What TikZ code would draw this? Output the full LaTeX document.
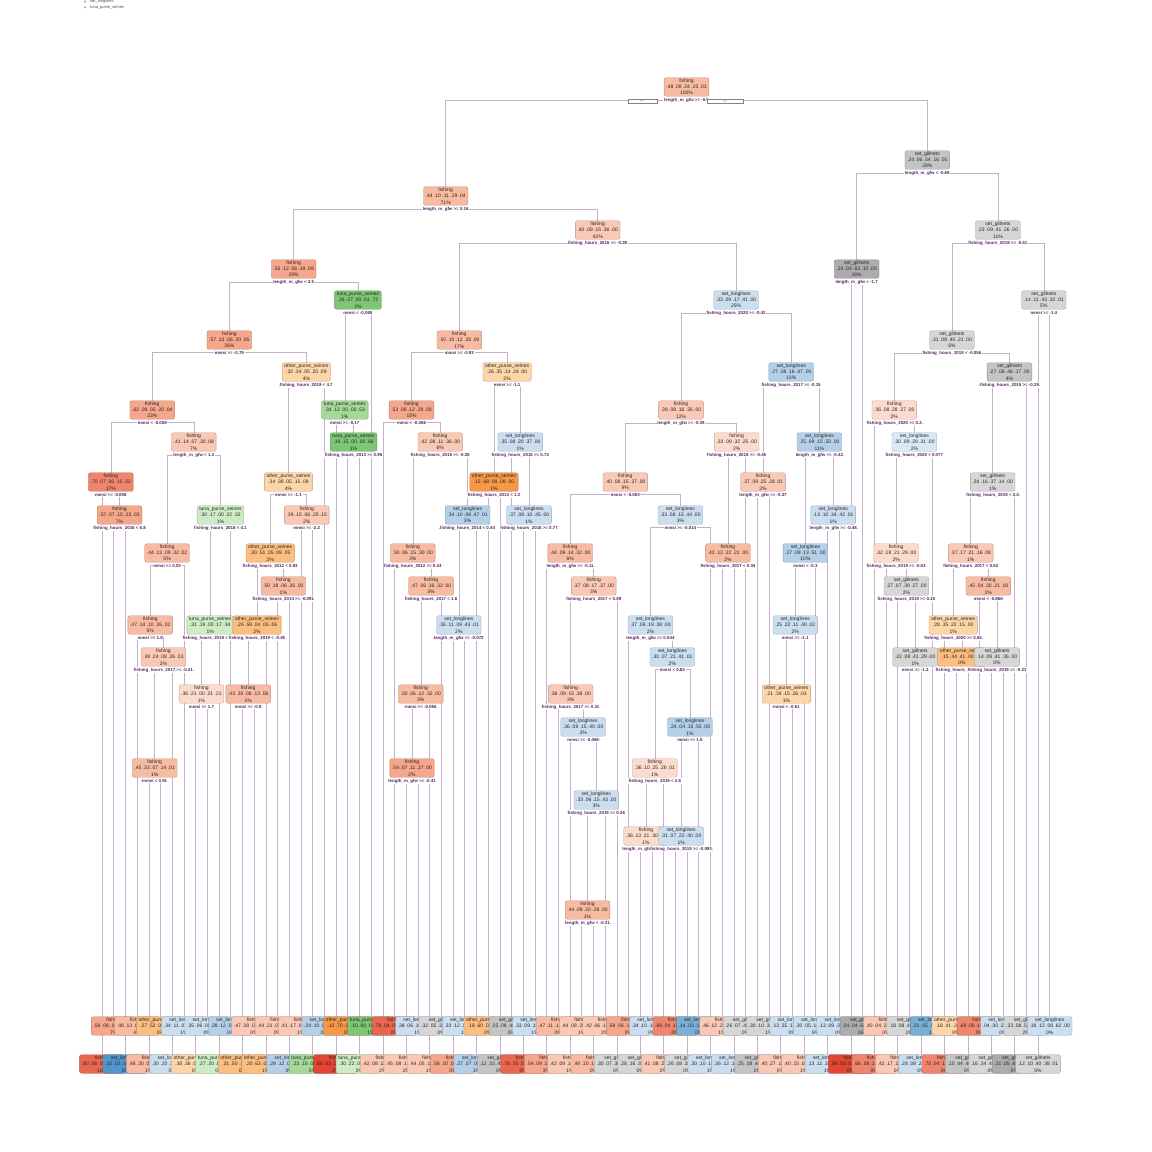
\documentclass[tikz,border=0pt]{standalone}
\usepackage{fontspec}
\setmainfont{Liberation Sans}
\usetikzlibrary{positioning,backgrounds}
\definecolor{f0}{RGB}{252,219,204}
\definecolor{f1}{RGB}{250,200,180}
\definecolor{f2}{RGB}{248,187,162}
\definecolor{f3}{RGB}{245,166,139}
\definecolor{f4}{RGB}{240,132,108}
\definecolor{f5}{RGB}{235,102,78}
\definecolor{f6}{RGB}{228,68,50}
\definecolor{o1}{RGB}{253,214,168}
\definecolor{o2}{RGB}{252,190,128}
\definecolor{o3}{RGB}{247,151,72}
\definecolor{g1}{RGB}{214,214,214}
\definecolor{g2}{RGB}{196,196,196}
\definecolor{g3}{RGB}{172,172,172}
\definecolor{b0}{RGB}{218,232,245}
\definecolor{b1}{RGB}{203,222,240}
\definecolor{b2}{RGB}{180,208,233}
\definecolor{b3}{RGB}{120,176,214}
\definecolor{b4}{RGB}{80,150,205}
\definecolor{t1}{RGB}{205,235,197}
\definecolor{t2}{RGB}{165,217,152}
\definecolor{t3}{RGB}{125,198,115}
\definecolor{linec}{RGB}{196,176,206}
\definecolor{splitc}{RGB}{85,35,95}
\tikzset{
  box/.style={fill=#1, draw=#1!75!black, rounded corners=2pt, line width=0.35pt, align=center,
    inner xsep=2.2pt, inner ysep=1.2pt, font=\fontsize{5}{6.2}\selectfont, text=black!85},
  split/.style={fill=white, inner sep=0.5pt, text=splitc, font=\bfseries\fontsize{4.4}{5}\selectfont},
  br/.style={draw=linec, line width=0.6pt},
  yn/.style={draw=linec!70!black, fill=white, line width=0.3pt, inner sep=0.2pt,
    font=\fontsize{3}{3.4}\selectfont, text=gray, minimum height=4pt}
}
\begin{document}
\begin{tikzpicture}[x=1pt, y=-1pt]
\useasboundingbox (0,0) rectangle (1152,1152);
% legend
\fill[b3] (85,1.5) circle (1.1);
\node[anchor=west, inner sep=0, font=\fontsize{4}{4}\selectfont, text=black!70] (lg1) at (90,1.5) {set\_longlines};
\fill[t3] (85,7.3) circle (1.1);
\node[anchor=west, inner sep=0, font=\fontsize{4}{4}\selectfont, text=black!70] (lg2) at (90,7.3) {tuna\_purse\_seines};

% leaves
\foreach \k/\c/\t/\p/\q in {
 1/f5/fishing/.80 .06 .04 .08 .02/10, 2/f3/fishing/.58 .08 .10 .21 .03/7,
 3/b4/set\_longlines/.15 .03 .08 .73 .01/0, 4/f2/fishing/.48 .13 .09 .27 .03/4,
 5/f2/fishing/.48 .30 .07 .14 .01/1, 6/o2/other\_purse\_seines/.27 .52 .06 .12 .03/0,
 7/b1/set\_longlines/.30 .20 .10 .39 .01/0, 8/b1/set\_longlines/.34 .11 .07 .45 .03/1,
 9/o1/other\_purse\_seines/.30 .36 .00 .24 .10/0, 10/b1/set\_longlines/.35 .06 .00 .41 .18/0,
 11/t1/tuna\_purse\_seines/.27 .20 .00 .15 .38/0, 12/b2/set\_longlines/.28 .12 .00 .49 .11/0,
 13/o2/other\_purse\_seines/.31 .50 .10 .05 .04/0, 14/f1/fishing/.47 .18 .06 .12 .17/0,
 15/o2/other\_purse\_seines/.20 .63 .03 .06 .08/1, 16/f1/fishing/.44 .21 .07 .28 .00/0,
 17/b2/set\_longlines/.29 .12 .05 .54 .00/0, 18/f1/fishing/.41 .17 .07 .23 .12/1,
 19/t2/tuna\_purse\_seines/.23 .10 .04 .15 .48/0, 20/b2/set\_longlines/.24 .10 .04 .52 .10/0,
 21/f6/fishing/.88 .03 .00 .00 .09/0, 22/o3/other\_purse\_seines/.12 .70 .00 .00 .18/0,
 23/t1/tuna\_purse\_seines/.30 .22 .00 .00 .48/0, 24/t3/tuna\_purse\_seines/.10 .00 .00 .02 .88/1,
 25/f1/fishing/.42 .08 .13 .37 .00/2, 26/f5/fishing/.78 .04 .09 .09 .00/0,
 27/f1/fishing/.45 .08 .12 .35 .00/1, 28/b1/set\_longlines/.38 .06 .10 .46 .00/1,
 29/f1/fishing/.44 .05 .12 .39 .00/1, 30/g1/set\_gillnets/.32 .05 .35 .28 .00/0,
 31/f3/fishing/.56 .10 .06 .28 .00/0, 32/b1/set\_longlines/.33 .12 .10 .45 .00/1,
 33/b2/set\_longlines/.27 .07 .06 .59 .01/1, 34/o2/other\_purse\_seines/.18 .60 .09 .13 .00/0,
 35/g2/set\_gillnets/.12 .33 .48 .07 .00/0, 36/g2/set\_gillnets/.25 .08 .46 .21 .00/0,
 37/f5/fishing/.76 .05 .05 .14 .00/0, 38/b1/set\_longlines/.33 .09 .12 .46 .00/1,
 39/f3/fishing/.54 .09 .11 .26 .00/3, 40/f2/fishing/.47 .11 .14 .28 .00/0,
 41/f1/fishing/.42 .09 .14 .35 .00/1, 42/f1/fishing/.44 .08 .20 .28 .00/1,
 43/f2/fishing/.49 .10 .19 .22 .00/0, 44/f1/fishing/.42 .06 .12 .40 .00/2,
 45/g1/set\_gillnets/.30 .07 .36 .27 .00/0, 46/f3/fishing/.58 .06 .11 .25 .00/0,
 47/g1/set\_gillnets/.28 .16 .35 .21 .00/0, 48/b1/set\_longlines/.34 .10 .16 .40 .00/0,
 49/f1/fishing/.41 .08 .27 .24 .00/0, 50/f4/fishing/.68 .04 .10 .18 .00/0,
 51/g1/set\_gillnets/.26 .08 .38 .28 .00/0, 52/b3/set\_longlines/.14 .03 .12 .71 .00/0,
 53/b1/set\_longlines/.30 .10 .14 .46 .00/1, 54/f1/fishing/.46 .12 .20 .22 .00/1,
 55/b1/set\_longlines/.36 .12 .11 .41 .00/1, 56/g1/set\_gillnets/.26 .07 .40 .27 .00/0,
 57/g2/set\_gillnets/.25 .08 .49 .18 .00/1, 58/g1/set\_gillnets/.30 .10 .36 .24 .00/1,
 59/f1/fishing/.40 .27 .13 .19 .01/0, 60/b1/set\_longlines/.13 .35 .13 .38 .01/0,
 61/f1/fishing/.40 .15 .08 .35 .02/1, 62/b1/set\_longlines/.30 .05 .14 .51 .00/8,
 63/b1/set\_longlines/.13 .11 .32 .44 .00/1, 64/b1/set\_longlines/.13 .09 .37 .41 .00/0,
 65/f6/fishing/.89 .03 .03 .05 .00/0, 66/g3/set\_gillnets/.24 .04 .64 .08 .00/16,
 67/f4/fishing/.66 .08 .10 .16 .00/0, 68/f1/fishing/.40 .04 .24 .32 .00/0,
 69/f1/fishing/.42 .17 .11 .30 .00/0, 70/g1/set\_gillnets/.18 .08 .40 .34 .00/1,
 71/b1/set\_longlines/.28 .08 .22 .42 .00/0, 72/b3/set\_longlines/.21 .05 .13 .61 .00/1,
 73/f4/fishing/.70 .04 .12 .14 .00/0, 74/o1/other\_purse\_seines/.18 .41 .37 .04 .00/0,
 75/g2/set\_gillnets/.10 .44 .46 .00 .00/0, 76/f4/fishing/.69 .00 .19 .12 .00/0,
 77/g1/set\_gillnets/.16 .34 .40 .10 .00/0, 78/b1/set\_longlines/.04 .30 .22 .44 .00/0,
 79/g3/set\_gillnets/.21 .05 .61 .13 .00/0, 80/g1/set\_gillnets/.23 .08 .52 .17 .00/2,
 81/g1/set\_gillnets/.12 .10 .40 .38 .01/5, 82/b1/set\_longlines/.18 .12 .08 .62 .00/0}{
  \pgfmathsetmacro{\lx}{102+(\k-1)*11.7}
  \pgfmathsetmacro{\ly}{isodd(\k) ? 1064 : 1026}
  \node[box=\c] (L\k) at (\lx,\ly) {\t\\\p\\\q\%};
}

% split nodes
\node[box=f2] (n1) at (686.5,87) {fishing\\.48 .09 .24 .25 .03\\100\%};
\node[split,below=0.8pt of n1] (s1) {length\_m\_gfw >= -0.5};
\node[box=f2] (n2) at (445.7,196) {fishing\\.44 .10 .11 .29 .04\\71\%};
\node[split,below=0.8pt of n2] (s2) {length\_m\_gfw >= 0.16};
\node[box=g2] (n3) at (927.3,160) {set\_gillnets\\.24 .06 .54 .16 .00\\29\%};
\node[split,below=0.8pt of n3] (s3) {length\_m\_gfw < -0.69};
\node[box=f3] (n4) at (293.65,269) {fishing\\.55 .12 .06 .19 .09\\29\%};
\node[split,below=0.8pt of n4] (s4) {length\_m\_gfw < 3.5};
\node[box=f1] (n5) at (597.7,230) {fishing\\.40 .09 .15 .36 .00\\42\%};
\node[split,below=0.8pt of n5] (s5) {fishing\_hours\_2016 >= -0.39};
\node[box=g3] (n6) at (856.65,269) {set\_gillnets\\.24 .04 .63 .10 .00\\16\%};
\node[split,below=0.8pt of n6] (s6) {length\_m\_gfw < -1.7};
\node[box=g1] (n7) at (997.9,230) {set\_gillnets\\.23 .09 .41 .26 .00\\11\%};
\node[split,below=0.8pt of n7] (s7) {fishing\_hours\_2018 >= -0.41};
\node[box=f3] (n8) at (229.35,340) {fishing\\.57 .13 .06 .20 .05\\26\%};
\node[split,below=0.8pt of n8] (s8) {mmsi >= -0.79};
\node[box=t3] (n9) at (357.95,300) {tuna\_purse\_seines\\.26 .07 .00 .01 .72\\2\%};
\node[split,below=0.8pt of n9] (s9) {mmsi < -0.065};
\node[box=f2] (n10) at (459.3,340) {fishing\\.50 .10 .12 .28 .00\\17\%};
\node[split,below=0.8pt of n10] (s10) {mmsi >= -0.93};
\node[box=b1] (n11) at (736.1,300) {set\_longlines\\.33 .09 .17 .41 .00\\25\%};
\node[split,below=0.8pt of n11] (s11) {fishing\_hours\_2020 >= -0.42};
\node[box=g1] (n14) at (951.9,340) {set\_gillnets\\.31 .08 .40 .21 .00\\6\%};
\node[split,below=0.8pt of n14] (s14) {fishing\_hours\_2018 < -0.056};
\node[box=g1] (n15) at (1043.85,300) {set\_gillnets\\.14 .11 .43 .32 .01\\5\%};
\node[split,below=0.8pt of n15] (s15) {mmsi >= -1.4};
\node[box=f3] (n16) at (152.3,410) {fishing\\.62 .09 .05 .20 .04\\23\%};
\node[split,below=0.8pt of n16] (s16) {mmsi < -0.058};
\node[box=o1] (n17) at (306.4,372) {other\_purse\_seines\\.32 .34 .05 .20 .09\\4\%};
\node[split,below=0.8pt of n17] (s17) {fishing\_hours\_2019 < 4.7};
\node[box=t2] (n18) at (344.8,410) {tuna\_purse\_seines\\.34 .12 .00 .00 .53\\1\%};
\node[split,below=0.8pt of n18] (s18) {mmsi >= -0.17};
\node[box=f3] (n20) at (411.5,410) {fishing\\.53 .06 .12 .29 .00\\15\%};
\node[split,below=0.8pt of n20] (s20) {mmsi < -0.066};
\node[box=o1] (n21) at (507.1,372) {other\_purse\_seines\\.26 .35 .14 .24 .00\\2\%};
\node[split,below=0.8pt of n21] (s21) {mmsi >= -1.1};
\node[box=f1] (n22) at (681,410) {fishing\\.39 .08 .16 .35 .00\\12\%};
\node[split,below=0.8pt of n22] (s22) {length\_m\_gfw >= -0.39};
\node[box=b2] (n23) at (791.2,372) {set\_longlines\\.27 .08 .16 .47 .00\\13\%};
\node[split,below=0.8pt of n23] (s23) {fishing\_hours\_2017 >= -0.15};
\node[box=f0] (n28) at (894.3,410) {fishing\\.36 .08 .28 .27 .00\\2\%};
\node[split,below=0.8pt of n28] (s28) {fishing\_hours\_2020 >= 0.2};
\node[box=g2] (n29) at (1009.5,372) {set\_gillnets\\.27 .08 .46 .17 .00\\4\%};
\node[split,below=0.8pt of n29] (s29) {fishing\_hours\_2015 >= -0.29};
\node[box=f4] (n32) at (110.8,482) {fishing\\.70 .07 .06 .15 .02\\17\%};
\node[split,below=0.8pt of n32] (s32) {mmsi >= -0.058};
\node[box=f1] (n33) at (193.8,442) {fishing\\.41 .14 .07 .30 .08\\7\%};
\node[split,below=0.8pt of n33] (s33) {length\_m\_gfw < 1.3};
\node[box=o1] (n34) at (288.5,482) {other\_purse\_seines\\.34 .38 .05 .15 .09\\4\%};
\node[split,below=0.8pt of n34] (s34) {mmsi >= -1.1};
\node[box=t3] (n37) at (353.55,442) {tuna\_purse\_seines\\.19 .15 .00 .00 .66\\1\%};
\node[split,below=0.8pt of n37] (s37) {fishing\_hours\_2013 >= 0.95};
\node[box=f1] (n41) at (440.2,442) {fishing\\.42 .08 .11 .36 .00\\6\%};
\node[split,below=0.8pt of n41] (s41) {fishing\_hours\_2018 >= -0.25};
\node[box=o3] (n42) at (493.95,482) {other\_purse\_seines\\.15 .68 .08 .09 .00\\1\%};
\node[split,below=0.8pt of n42] (s42) {fishing\_hours\_2013 < 1.3};
\node[box=b1] (n43) at (520.3,442) {set\_longlines\\.35 .08 .20 .37 .00\\1\%};
\node[split,below=0.8pt of n43] (s43) {fishing\_hours\_2015 >= 0.72};
\node[box=f1] (n44) at (625.3,482) {fishing\\.40 .08 .15 .37 .00\\9\%};
\node[split,below=0.8pt of n44] (s44) {mmsi < -0.063};
\node[box=f0] (n45) at (736.7,442) {fishing\\.33 .09 .32 .25 .00\\2\%};
\node[split,below=0.8pt of n45] (s45) {fishing\_hours\_2018 >= -0.45};
\node[box=f1] (n46) at (763.05,482) {fishing\\.37 .09 .25 .28 .01\\2\%};
\node[split,below=0.8pt of n46] (s46) {length\_m\_gfw >= -0.37};
\node[box=b2] (n47) at (819.35,442) {set\_longlines\\.25 .09 .15 .50 .00\\11\%};
\node[split,below=0.8pt of n47] (s47) {length\_m\_gfw >= -0.42};
\node[box=b0] (n57) at (914.4,442) {set\_longlines\\.30 .09 .29 .31 .00\\2\%};
\node[split,below=0.8pt of n57] (s57) {fishing\_hours\_2020 < 0.077};
\node[box=g1] (n58) at (992.7,482) {set\_gillnets\\.34 .16 .37 .14 .00\\1\%};
\node[split,below=0.8pt of n58] (s58) {fishing\_hours\_2019 < 2.4};
\node[box=f3] (n65) at (119.55,515) {fishing\\.57 .07 .10 .23 .03\\7\%};
\node[split,below=0.8pt of n65] (s65) {fishing\_hours\_2016 < 6.8};
\node[box=f2] (n66) at (167.1,553) {fishing\\.44 .13 .09 .32 .02\\5\%};
\node[split,below=0.8pt of n66] (s66) {mmsi >= 0.03};
\node[box=t1] (n67) at (220.45,515) {tuna\_purse\_seines\\.30 .17 .00 .22 .32\\1\%};
\node[split,below=0.8pt of n67] (s67) {fishing\_hours\_2018 < 4.1};
\node[box=o2] (n68) at (270.2,553) {other\_purse\_seines\\.30 .51 .05 .09 .05\\2\%};
\node[split,below=0.8pt of n68] (s68) {fishing\_hours\_2012 < 0.83};
\node[box=f1] (n69) at (306.75,515) {fishing\\.39 .15 .06 .25 .15\\2\%};
\node[split,below=0.8pt of n69] (s69) {mmsi >= -2.2};
\node[box=f2] (n82) at (412.8,553) {fishing\\.50 .06 .15 .30 .00\\3\%};
\node[split,below=0.8pt of n82] (s82) {fishing\_hours\_2012 >= 0.24};
\node[box=b2] (n83) at (467.6,515) {set\_longlines\\.34 .10 .08 .47 .01\\3\%};
\node[split,below=0.8pt of n83] (s83) {fishing\_hours\_2014 < 0.44};
\node[box=b1] (n87) at (529.05,515) {set\_longlines\\.37 .08 .10 .45 .00\\1\%};
\node[split,below=0.8pt of n87] (s87) {fishing\_hours\_2016 >= 0.77};
\node[box=f2] (n88) at (570.2,553) {fishing\\.44 .09 .14 .32 .00\\6\%};
\node[split,below=0.8pt of n88] (s88) {length\_m\_gfw >= -0.11};
\node[box=b1] (n89) at (680.4,515) {set\_longlines\\.33 .08 .15 .44 .00\\3\%};
\node[split,below=0.8pt of n89] (s89) {mmsi >= -0.014};
\node[box=f2] (n90) at (727.95,553) {fishing\\.43 .12 .22 .22 .00\\2\%};
\node[split,below=0.8pt of n90] (s90) {fishing\_hours\_2017 < 0.34};
\node[box=b2] (n94) at (805.45,553) {set\_longlines\\.27 .09 .13 .51 .00\\10\%};
\node[split,below=0.8pt of n94] (s94) {mmsi < -0.3};
\node[box=b1] (n95) at (833.25,515) {set\_longlines\\.13 .10 .34 .42 .01\\1\%};
\node[split,below=0.8pt of n95] (s95) {length\_m\_gfw >= -0.48};
\node[box=f0] (n114) at (896.15,553) {fishing\\.32 .18 .21 .29 .00\\2\%};
\node[split,below=0.8pt of n114] (s114) {fishing\_hours\_2019 >= -0.53};
\node[box=f1] (n116) at (970.75,553) {fishing\\.37 .17 .21 .16 .08\\1\%};
\node[split,below=0.8pt of n116] (s116) {fishing\_hours\_2017 < 0.62};
\node[box=f2] (n132) at (150.25,625) {fishing\\.47 .14 .10 .26 .02\\5\%};
\node[split,below=0.8pt of n132] (s132) {mmsi >= 1.8};
\node[box=t1] (n134) at (210.2,625) {tuna\_purse\_seines\\.31 .19 .00 .17 .34\\1\%};
\node[split,below=0.8pt of n134] (s134) {fishing\_hours\_2019 < 0.38};
\node[box=o2] (n136) at (257,625) {other\_purse\_seines\\.26 .59 .04 .05 .06\\2\%};
\node[split,below=0.8pt of n136] (s136) {fishing\_hours\_2019 < -0.45};
\node[box=f2] (n137) at (283.35,586) {fishing\\.50 .18 .06 .26 .00\\1\%};
\node[split,below=0.8pt of n137] (s137) {fishing\_hours\_2014 >= -0.091};
\node[box=f2] (n165) at (431.05,586) {fishing\\.47 .06 .16 .32 .00\\3\%};
\node[split,below=0.8pt of n165] (s165) {fishing\_hours\_2017 < 1.6};
\node[box=b1] (n166) at (458.85,625) {set\_longlines\\.36 .11 .09 .43 .01\\2\%};
\node[split,below=0.8pt of n166] (s166) {length\_m\_gfw >= -0.072};
\node[box=f1] (n177) at (593.75,586) {fishing\\.37 .08 .17 .37 .00\\3\%};
\node[split,below=0.8pt of n177] (s177) {fishing\_hours\_2017 < 0.89};
\node[box=b1] (n178) at (650.4,625) {set\_longlines\\.37 .06 .19 .38 .00\\2\%};
\node[split,below=0.8pt of n178] (s178) {length\_m\_gfw >= 0.044};
\node[box=b1] (n188) at (795.2,625) {set\_longlines\\.25 .22 .11 .40 .02\\2\%};
\node[split,below=0.8pt of n188] (s188) {mmsi >= -1.1};
\node[box=g1] (n229) at (906.4,586) {set\_gillnets\\.27 .07 .39 .27 .00\\2\%};
\node[split,below=0.8pt of n229] (s229) {fishing\_hours\_2019 >= 0.18};
\node[box=o1] (n232) at (953.2,625) {other\_purse\_seines\\.28 .35 .22 .15 .00\\1\%};
\node[split,below=0.8pt of n232] (s232) {fishing\_hours\_2020 >= 0.92};
\node[box=f2] (n233) at (988.3,586) {fishing\\.45 .04 .30 .21 .00\\1\%};
\node[split,below=0.8pt of n233] (s233) {mmsi < -0.866};
\node[box=f1] (n265) at (163.4,657) {fishing\\.39 .24 .08 .26 .03\\2\%};
\node[split,below=0.8pt of n265] (s265) {fishing\_hours\_2017 >= -0.21};
\node[box=f0] (n268) at (201.45,694) {fishing\\.36 .21 .00 .21 .21\\1\%};
\node[split,below=0.8pt of n268] (s268) {mmsi >= 1.7};
\node[box=f2] (n272) at (248.25,694) {fishing\\.43 .30 .08 .13 .06\\1\%};
\node[split,below=0.8pt of n272] (s272) {mmsi >= -0.8};
\node[box=f2] (n330) at (420.8,694) {fishing\\.50 .06 .12 .32 .00\\3\%};
\node[split,below=0.8pt of n330] (s330) {mmsi >= -0.066};
\node[box=f1] (n354) at (570.7,694) {fishing\\.38 .09 .15 .38 .00\\3\%};
\node[split,below=0.8pt of n354] (s354) {fishing\_hours\_2017 >= 0.31};
\node[box=b1] (n357) at (672.35,657) {set\_longlines\\.30 .07 .21 .41 .01\\2\%};
\node[split,below=0.8pt of n357] (s357) {mmsi < 0.84};
\node[box=o1] (n376) at (786.45,694) {other\_purse\_seines\\.21 .34 .15 .26 .03\\1\%};
\node[split,below=0.8pt of n376] (s376) {mmsi < -0.61};
\node[box=g1] (n459) at (915.15,657) {set\_gillnets\\.22 .08 .41 .29 .00\\1\%};
\node[split,below=0.8pt of n459] (s459) {mmsi >= -1.2};
\node[box=o2] (n465) at (961.95,657) {other\_purse\_seines\\.15 .44 .41 .00 .00\\0\%};
\node[split,below=0.8pt of n465] (s465) {fishing\_hours\_2019 < 1.2};
\node[box=g1] (n467) at (997.05,657) {set\_gillnets\\.14 .09 .41 .36 .00\\0\%};
\node[split,below=0.8pt of n467] (s467) {fishing\_hours\_2019 >= -0.23};
\node[box=f2] (n530) at (154.65,768) {fishing\\.45 .33 .07 .14 .01\\1\%};
\node[split,below=0.8pt of n530] (s530) {mmsi < 0.91};
\node[box=f3] (n660) at (412.05,768) {fishing\\.54 .07 .11 .27 .00\\2\%};
\node[split,below=0.8pt of n660] (s660) {length\_m\_gfw >= -0.41};
\node[box=b1] (n709) at (583.15,727) {set\_longlines\\.36 .09 .15 .40 .00\\3\%};
\node[split,below=0.8pt of n709] (s709) {mmsi >= -0.068};
\node[box=f0] (n714) at (654.8,768) {fishing\\.36 .10 .25 .29 .01\\1\%};
\node[split,below=0.8pt of n714] (s714) {fishing\_hours\_2019 < 2.6};
\node[box=b2] (n715) at (689.9,727) {set\_longlines\\.24 .04 .15 .55 .00\\1\%};
\node[split,below=0.8pt of n715] (s715) {mmsi >= 1.5};
\node[box=b1] (n1419) at (596.3,800) {set\_longlines\\.33 .06 .15 .43 .00\\3\%};
\node[split,below=0.8pt of n1419] (s1419) {fishing\_hours\_2019 >= 0.26};
\node[box=f0] (n1428) at (646.05,836) {fishing\\.36 .13 .21 .30 .00\\1\%};
\node[split,below=0.8pt of n1428] (s1428) {length\_m\_gfw >= -0.88};
\node[box=b1] (n1430) at (681.15,836) {set\_longlines\\.31 .07 .22 .40 .00\\1\%};
\node[split,below=0.8pt of n1430] (s1430) {fishing\_hours\_2019 >= -0.093};
\node[box=f2] (n2838) at (587.55,910) {fishing\\.44 .09 .20 .28 .00\\1\%};
\node[split,below=0.8pt of n2838] (s2838) {length\_m\_gfw < -0.31};

% yes / no
\node[yn, minimum width=29pt] (yes) at (642.5,101.3) {yes};
\node[yn, minimum width=36pt] (no) at (725,101.3) {no};

% branches
\begin{scope}[on background layer]
\foreach \p/\a/\b in {1/n2/n3, 2/n4/n5, 3/n6/n7, 4/n8/n9, 5/n10/n11, 6/L65/L66, 7/n14/n15,
  8/n16/n17, 9/n18/L24, 10/n20/n21, 11/n22/n23, 14/n28/n29, 15/L81/L82, 16/n32/n33,
  17/n34/L20, 18/L21/n37, 20/L25/n41, 21/n42/n43, 22/n44/n45, 23/n46/n47, 28/L67/n57,
  29/n58/L80, 32/L1/n65, 33/n66/n67, 34/n68/n69, 37/L22/L23, 41/n82/n83, 42/L34/L35,
  43/L36/n87, 44/n88/n89, 45/n90/L56, 46/L57/L58, 47/n94/n95, 57/n114/L72, 58/n116/L79,
  65/L2/L3, 66/n132/L8, 67/n134/L12, 68/n136/n137, 69/L18/L19, 82/L26/n165, 83/n166/L33,
  87/L37/L38, 88/L39/n177, 89/n178/L53, 90/L54/L55, 94/n188/L62, 95/L63/L64, 114/L68/n229,
  116/n232/n233, 132/L4/n265, 134/n268/L11, 136/n272/L15, 137/L16/L17, 165/n330/L30,
  166/L31/L32, 177/n354/L45, 178/L46/n357, 188/n376/L61, 229/L69/n459, 232/L73/n465,
  233/L76/n467, 265/n530/L7, 268/L9/L10, 272/L13/L14, 330/n660/L29, 354/L40/n709,
  357/n714/n715, 376/L59/L60, 459/L70/L71, 465/L74/L75, 467/L77/L78, 530/L5/L6,
  660/L27/L28, 709/L41/n1419, 714/n1428/L49, 715/n1430/L52, 1419/n2838/L44,
  1428/L47/L48, 1430/L50/L51, 2838/L42/L43}
  \draw[br] (\a.north) |- (s\p) -| (\b.north);
\end{scope}
\end{tikzpicture}
\end{document}
